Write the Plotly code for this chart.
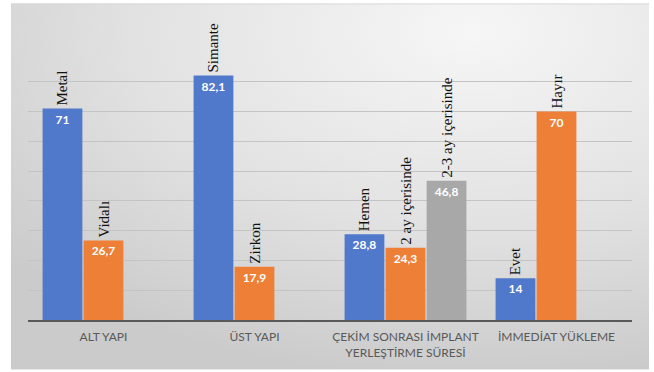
import base64
import plotly.graph_objects as go

categories = ["ALT YAPI", "ÜST YAPI", "ÇEKİM SONRASI İMPLANT<br>YERLEŞTİRME SÜRESİ", "İMMEDİAT YÜKLEME"]

series1_values = [71, 82.1, 28.8, 14]
series1_labels = ["Metal", "Simante", "Hemen", "Evet"]

series2_values = [26.7, 17.9, 24.3, 70]
series2_labels = ["Vidalı", "Zirkon", "2 ay içerisinde", "Hayır"]

series3_values = [None, None, 46.8, None]
series3_labels = ["", "", "2-3 ay içerisinde", ""]

colors = ["#5179CB", "#ED7F36", "#A8A8A8"]


def fmt(v):
    if v is None:
        return ""
    s = f"{v:g}"
    return s.replace(".", ",")


svg = """<svg xmlns='http://www.w3.org/2000/svg' width='638' height='369' preserveAspectRatio='none' viewBox='0 0 638 369'>
<defs><radialGradient id='g' cx='0.72' cy='0.08' r='0.95' fx='0.72' fy='0.08'>
<stop offset='0' stop-color='#f6f6f6'/><stop offset='0.55' stop-color='#e2e2e2'/><stop offset='1' stop-color='#cbcbcb'/>
</radialGradient></defs>
<rect x='0' y='0' width='638' height='369' fill='url(#g)'/>
<line x1='0' y1='0.5' x2='638' y2='0.5' stroke='#d8d8d8' stroke-width='1'/>
</svg>"""
svg_uri = "data:image/svg+xml;base64," + base64.b64encode(svg.encode("utf-8")).decode("ascii")

fig = go.Figure()

all_series = [
    (series1_values, series1_labels, colors[0], "s1"),
    (series2_values, series2_labels, colors[1], "s2"),
    (series3_values, series3_labels, colors[2], "s3"),
]

for vals, labs, col, grp in all_series:
    fig.add_trace(go.Bar(
        x=categories, y=vals, offsetgroup=grp,
        marker=dict(color=col, line=dict(width=0)),
        text=[fmt(v) for v in vals],
        textposition="inside", insidetextanchor="end",
        textangle=0, constraintext="none",
        textfont=dict(family="Lato", size=12, color="white", weight="bold"),
        hoverinfo="skip", showlegend=False,
    ))
    fig.add_trace(go.Bar(
        x=categories, y=vals, offsetgroup=grp,
        marker=dict(color="rgba(0,0,0,0)", line=dict(width=0)),
        text=labs, textposition="outside", textangle=-90,
        constraintext="none", cliponaxis=False,
        textfont=dict(family="Liberation Serif", size=15, color="#111111"),
        hoverinfo="skip", showlegend=False,
    ))

fig.update_layout(
    width=654, height=372,
    margin=dict(l=28, r=22, t=52, b=50),
    paper_bgcolor="white",
    plot_bgcolor="rgba(0,0,0,0)",
    barmode="group", bargap=0.185, bargroupgap=0.03,
    uniformtext=dict(mode=False),
    images=[dict(
        source=svg_uri, xref="paper", yref="paper",
        x=(11 - 28) / 604, y=(322 - 3) / 270,
        sizex=(649 - 11) / 604, sizey=(372 - 3) / 270,
        xanchor="left", yanchor="top", sizing="stretch", layer="below",
    )],
    xaxis=dict(
        showline=True, linecolor="#595959", linewidth=1.5,
        ticks="", showgrid=False, ticklabelstandoff=5,
        tickfont=dict(family="Lato", size=12, color="#595959"),
    ),
    yaxis=dict(
        range=[0, 90], dtick=10, showticklabels=False,
        showgrid=True, gridcolor="#c4c4c4", gridwidth=1,
        zeroline=False, showline=False,
    ),
)

fig.write_html("out.html")
